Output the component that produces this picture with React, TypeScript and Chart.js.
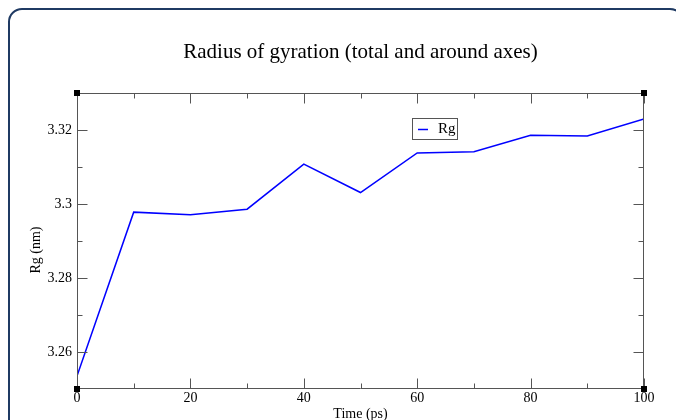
import { useEffect, useRef } from "react";
import { Chart, registerables } from "chart.js";

Chart.register(...registerables);

// ---- data ----
const timePs = [0, 10, 20, 30, 40, 50, 60, 70, 80, 90, 100];
const rgNm = [3.2535, 3.2978, 3.2971, 3.2986, 3.3108, 3.3031, 3.3138, 3.3141, 3.3186, 3.3184, 3.323];
const xMajorTicks = [0, 20, 40, 60, 80, 100];
const xMinorTicks = [10, 30, 50, 70, 90];
const yMajorTicks = [3.26, 3.28, 3.3, 3.32];
const yMinorTicks = [3.27, 3.29, 3.31];
const chartTitle = "Radius of gyration (total and around axes)";
const xTitle = "Time (ps)";
const yTitle = "Rg (nm)";
const seriesLabel = "Rg";

const SERIF = "'Liberation Serif', 'Times New Roman', serif";
const AXIS = "#555";
const BLUE = "#0000ff";

const gracePlugin = {
  id: "graceFrame",
  afterDatasetsDraw(chart: any) {
    const { ctx, chartArea: a, scales } = chart;
    const x = scales.x;
    const y = scales.y;
    ctx.save();
    ctx.strokeStyle = AXIS;
    ctx.lineWidth = 1;
    const L = Math.round(a.left) + 0.5;
    const R = Math.round(a.right) - 0.5;
    const T = Math.round(a.top) + 0.5;
    const B = Math.round(a.bottom) - 0.5;
    ctx.beginPath();
    ctx.rect(L, T, R - L, B - T);
    const tick = (vals: number[], len: number) => {
      vals.forEach((v) => {
        const px = Math.round(x.getPixelForValue(v)) + 0.5;
        ctx.moveTo(px, B);
        ctx.lineTo(px, B - len);
        ctx.moveTo(px, T);
        ctx.lineTo(px, T + len);
      });
    };
    const ytick = (vals: number[], len: number) => {
      vals.forEach((v) => {
        const py = Math.round(y.getPixelForValue(v)) + 0.5;
        ctx.moveTo(L, py);
        ctx.lineTo(L + len, py);
        ctx.moveTo(R, py);
        ctx.lineTo(R - len, py);
      });
    };
    tick(xMajorTicks, 10);
    tick(xMinorTicks, 5);
    ytick(yMajorTicks, 10);
    ytick(yMinorTicks, 5);
    ctx.stroke();

    // corner handles
    ctx.fillStyle = "#000";
    [
      [a.left, a.top],
      [a.right, a.top],
      [a.left, a.bottom],
      [a.right, a.bottom],
    ].forEach(([cx, cy]) => ctx.fillRect(Math.round(cx) - 3, Math.round(cy) - 3, 6, 6));

    // legend box
    const ds = chart.data.datasets[0];
    const lx = Math.round(a.left) + 335;
    const ly = Math.round(a.top) + 25;
    ctx.strokeStyle = AXIS;
    ctx.lineWidth = 1;
    ctx.strokeRect(lx + 0.5, ly + 0.5, 45, 21);
    ctx.strokeStyle = ds.borderColor;
    ctx.lineWidth = 1.5;
    ctx.beginPath();
    ctx.moveTo(lx + 6, ly + 11.5);
    ctx.lineTo(lx + 16, ly + 11.5);
    ctx.stroke();
    ctx.fillStyle = "#000";
    ctx.font = `15px ${SERIF}`;
    ctx.textBaseline = "middle";
    ctx.textAlign = "left";
    ctx.fillText(ds.label, lx + 26, ly + 11.5);

    // y-axis title
    ctx.save();
    ctx.translate(36, (a.top + a.bottom) / 2 + 9);
    ctx.rotate(-Math.PI / 2);
    ctx.textAlign = "center";
    ctx.textBaseline = "middle";
    ctx.font = `14px ${SERIF}`;
    ctx.fillText(yTitle, 0, 0);
    ctx.restore();

    ctx.restore();
  },
};

export default function App() {
  const ref = useRef<HTMLCanvasElement>(null);

  useEffect(() => {
    const tickFont = { family: SERIF, size: 14 };
    const chart = new Chart(ref.current as HTMLCanvasElement, {
      type: "line",
      data: {
        datasets: [
          {
            label: seriesLabel,
            data: timePs.map((t, i) => ({ x: t, y: rgNm[i] })),
            borderColor: BLUE,
            borderWidth: 1.5,
            pointRadius: 0,
            tension: 0,
            fill: false,
          },
        ],
      },
      options: {
        responsive: false,
        animation: false,
        layout: { padding: { left: 0, right: 32, top: 0, bottom: 0 } },
        plugins: {
          legend: { display: false },
          tooltip: { enabled: false },
          title: {
            display: true,
            text: chartTitle,
            fullSize: false,
            color: "#000",
            font: { family: SERIF, size: 21, weight: "normal", lineHeight: 1.25 },
            padding: { top: 39, bottom: 27.75 },
          },
        },
        scales: {
          x: {
            type: "linear",
            position: "bottom",
            min: 0,
            max: 100,
            grid: { display: false, drawTicks: false },
            border: { display: false },
            afterBuildTicks: (s: any) => {
              s.ticks = xMajorTicks.map((v) => ({ value: v }));
            },
            ticks: {
              padding: 1,
              color: "#000",
              font: tickFont,
              maxRotation: 0,
              autoSkip: false,
              callback: (v: any) => String(v),
            },
            title: {
              display: true,
              text: xTitle,
              color: "#000",
              font: tickFont,
              padding: { top: 0, bottom: -3 },
            },
            afterFit: (s: any) => {
              s.height = 31;
            },
          },
          y: {
            type: "linear",
            min: 3.25,
            max: 3.33,
            grid: { display: false, drawTicks: false },
            border: { display: false },
            afterBuildTicks: (s: any) => {
              s.ticks = yMajorTicks.map((v) => ({ value: v }));
            },
            ticks: {
              padding: 5,
              color: "#000",
              font: tickFont,
              autoSkip: false,
              callback: (v: any) => String(Number(Number(v).toFixed(2))),
            },
            afterFit: (s: any) => {
              s.width = 77;
            },
          },
        },
      },
      plugins: [gracePlugin],
    } as any);
    return () => chart.destroy();
  }, []);

  return (
    <div style={{ position: "fixed", inset: 0, overflow: "hidden", background: "#fff" }}>
      <div
        style={{
          position: "absolute",
          left: 8,
          top: 8,
          width: 676,
          height: 460,
          border: "2px solid #1f3a63",
          borderRadius: 14,
          boxSizing: "border-box",
        }}
      />
      <canvas ref={ref} width={676} height={420} style={{ position: "absolute", left: 0, top: 0 }} />
    </div>
  );
}
